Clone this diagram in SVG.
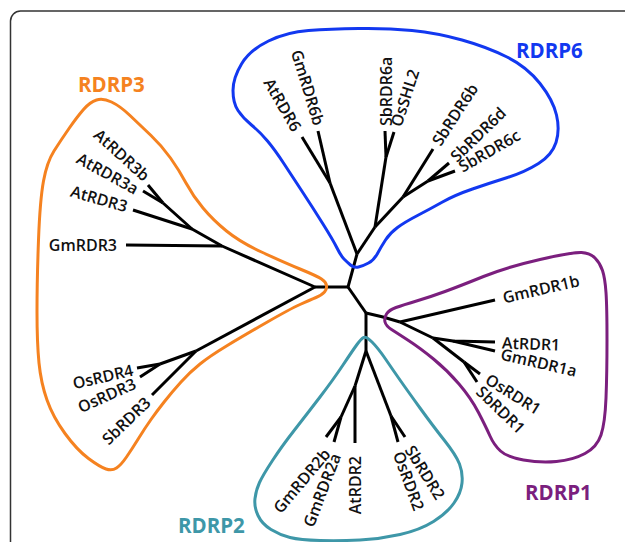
<svg xmlns="http://www.w3.org/2000/svg" width="625" height="542" viewBox="0 0 625 542">
<style>
.tree path{fill:none;stroke:#000;stroke-width:3;stroke-linecap:butt;stroke-linejoin:round}
.hull{fill:none;stroke-width:3;stroke-linejoin:round}
.lf{font-family:"Open Sans","DejaVu Sans",sans-serif;font-size:16px;font-weight:600;fill:#111}
.ttl{font-family:"Open Sans","DejaVu Sans",sans-serif;font-size:20.5px;font-weight:700}
</style>
<rect x="10.5" y="11" width="700" height="600" rx="10" fill="#fff" stroke="#333" stroke-width="1.5"/>
<g id="connectors" class="tree">
<path d="M315,287 L348,287"/>
<path d="M348,287 L357,254"/>
<path d="M348,287 L366,313"/>
<path d="M357,254 L330,183"/>
<path d="M330,183 L302,137"/>
<path d="M330,183 L318,131"/>
<path d="M357,254 L375,227"/>
<path d="M375,227 L386,157"/>
<path d="M386,157 L385,131"/>
<path d="M386,157 L394,132"/>
<path d="M375,227 L403,197"/>
<path d="M403,197 L433,149"/>
<path d="M403,197 L428,181"/>
<path d="M428,181 L449,163"/>
<path d="M428,181 L455,171"/>
<path d="M366,313 L383,317 L400,322"/>
<path d="M400,322 L495,300"/>
<path d="M400,322 L433,338"/>
<path d="M433,338 L453,341 L495,342"/>
<path d="M453,341 L495,351"/>
<path d="M433,338 L464,362"/>
<path d="M464,362 L480,374"/>
<path d="M464,362 L477,382"/>
<path d="M366,313 L366,351"/>
<path d="M366,351 L355,386"/>
<path d="M355,386 L355,443"/>
<path d="M355,386 L341,417"/>
<path d="M341,417 L326,437"/>
<path d="M341,417 L334,442"/>
<path d="M366,351 L391,416"/>
<path d="M391,416 L398,442"/>
<path d="M391,416 L405,437"/>
<path d="M315,287 L222,246 L192,229 L163,203"/>
<path d="M222,246 L126,245"/>
<path d="M192,229 L133,210"/>
<path d="M163,203 L148,185"/>
<path d="M163,203 L143,191"/>
<path d="M315,287 L196,351"/>
<path d="M196,351 L152,395"/>
<path d="M196,351 L160,364"/>
<path d="M160,364 L137,368"/>
<path d="M160,364 L140,377"/>
</g>
<g id="RDRP3">
<path class="hull" stroke="#f58220" d="M96.5,100 Q103,98 111.5,102 Q120,106 130,115.5 Q140,125 151,135.5 Q162,146 170.5,158 Q179,170 186,183 Q193,196 203,208 Q213,220 226.5,231 Q240,242 261.5,252 Q283,262 300,269 Q317,276 321.5,279 Q326,282 326.5,285.5 Q327,289 324.5,292 Q322,295 316,297.5 Q310,300 300,304.5 Q290,309 266.5,322.5 Q243,336 226.5,346 Q210,356 200,364 Q190,372 181,382 Q172,392 164.5,401.5 Q157,411 151,419.5 Q145,428 138.5,438.5 Q132,449 126.5,457 Q121,465 116.5,468 Q112,471 106,469 Q100,467 88.5,458.5 Q77,450 65,433.5 Q53,417 47,400 Q41,383 39,363 Q37,343 37,311.5 Q37,280 38.5,240 Q40,200 43.5,181 Q47,162 54,151 Q61,140 69,128.5 Q77,117 83.5,109.5 Q90,102 96.5,100 Z"/>
<text class="ttl" fill="#f58220" x="78" y="92">RDRP3</text>
</g>
<g id="RDRP6">
<path class="hull" stroke="#1238f0" d="M233,90.5 Q233,78 241.5,64 Q250,50 268.5,41 Q287,32 308.5,30.5 Q330,29 358.5,28.5 Q387,28 412,30.5 Q437,33 462,40 Q487,47 507,57 Q527,67 540,83.5 Q553,100 556.5,115 Q560,130 556,142.5 Q552,155 538.5,163.5 Q525,172 507.5,177.5 Q490,183 472.5,189 Q455,195 442.5,202 Q430,209 417.5,215.5 Q405,222 397.5,227.5 Q390,233 385.5,240 Q381,247 377.5,253.5 Q374,260 368.5,263 Q363,266 358.5,267 Q354,268 350.5,265 Q347,262 344,259 Q341,256 337,248 Q333,240 323,224 Q313,208 302.5,192 Q292,176 283.5,163 Q275,150 267.5,141 Q260,132 251.5,125 Q243,118 238,110.5 Q233,103 233,90.5 Z"/>
<text class="ttl" fill="#1238f0" x="516" y="58">RDRP6</text>
</g>
<g id="RDRP1">
<path class="hull" stroke="#7b1f7e" d="M385,322 Q384,318 386.5,314 Q389,310 396,307.5 Q403,305 416.5,301 Q430,297 445,291.5 Q460,286 483.5,276.5 Q507,267 540,259.5 Q573,252 581.5,252.5 Q590,253 595,258 Q600,263 602.5,270.5 Q605,278 606,292.5 Q607,307 607,340 Q607,373 606,398 Q605,423 601,435 Q597,447 585,453.5 Q573,460 556.5,461.5 Q540,463 523.5,460 Q507,457 500.5,451 Q494,445 490,436 Q486,427 478.5,412.5 Q471,398 459,384 Q447,370 433.5,359 Q420,348 408.5,340.5 Q397,333 391.5,329.5 Q386,326 385,322 Z"/>
<text class="ttl" fill="#7b1f7e" x="525" y="500">RDRP1</text>
</g>
<g id="RDRP2">
<path class="hull" stroke="#3e97a8" d="M363.5,337.5 Q366,336 372,342 Q378,348 385.5,359 Q393,370 400,380 Q407,390 420,408 Q433,426 444.5,440.5 Q456,455 459.5,464 Q463,473 462,483 Q461,493 454,503 Q447,513 433.5,521.5 Q420,530 400,534.5 Q380,539 360,540 Q340,541 320,540.5 Q300,540 290,537.5 Q280,535 271,529.5 Q262,524 258,515.5 Q254,507 255,498.5 Q256,490 259.5,482.5 Q263,475 272.5,460.5 Q282,446 294.5,430 Q307,414 320,397 Q333,380 343,365 Q353,350 357,344.5 Q361,339 363.5,337.5 Z"/>
<text class="ttl" fill="#3e97a8" x="178" y="533">RDRP2</text>
</g>
<g id="GmRDR3"><text class="lf" text-anchor="end" dy="0.35em" transform="translate(117,245)">GmRDR3</text></g>
<g id="AtRDR3"><text class="lf" text-anchor="end" dy="0.35em" transform="translate(127,207) rotate(16)">AtRDR3</text></g>
<g id="AtRDR3a"><text class="lf" text-anchor="end" dy="0.35em" transform="translate(137,190) rotate(29)">AtRDR3a</text></g>
<g id="AtRDR3b"><text class="lf" text-anchor="end" dy="0.35em" transform="translate(147,178) rotate(42)">AtRDR3b</text></g>
<g id="OsRDR4"><text class="lf" text-anchor="end" dy="0.35em" transform="translate(133,370) rotate(-13)">OsRDR4</text></g>
<g id="OsRDR3"><text class="lf" text-anchor="end" dy="0.35em" transform="translate(135,383) rotate(-24)">OsRDR3</text></g>
<g id="SbRDR3"><text class="lf" text-anchor="end" dy="0.35em" transform="translate(148,400) rotate(-44)">SbRDR3</text></g>
<g id="AtRDR6"><text class="lf" text-anchor="end" dy="0.35em" transform="translate(297,130) rotate(60)">AtRDR6</text></g>
<g id="GmRDR6b"><text class="lf" text-anchor="end" dy="0.35em" transform="translate(319,125) rotate(73)">GmRDR6b</text></g>
<g id="SbRDR6a"><text class="lf" text-anchor="start" dy="0.35em" transform="translate(386,126) rotate(-90)">SbRDR6a</text></g>
<g id="OsSHL2"><text class="lf" text-anchor="start" dy="0.35em" transform="translate(396,126) rotate(-72)">OsSHL2</text></g>
<g id="SbRDR6b"><text class="lf" text-anchor="start" dy="0.35em" transform="translate(436,144) rotate(-57)">SbRDR6b</text></g>
<g id="SbRDR6d"><text class="lf" text-anchor="start" dy="0.35em" transform="translate(453,159) rotate(-44)">SbRDR6d</text></g>
<g id="SbRDR6c"><text class="lf" text-anchor="start" dy="0.35em" transform="translate(460,168) rotate(-30)">SbRDR6c</text></g>
<g id="GmRDR1b"><text class="lf" text-anchor="start" dy="0.35em" transform="translate(503,298) rotate(-13)">GmRDR1b</text></g>
<g id="AtRDR1"><text class="lf" text-anchor="start" dy="0.35em" transform="translate(502,343) rotate(2)">AtRDR1</text></g>
<g id="GmRDR1a"><text class="lf" text-anchor="start" dy="0.35em" transform="translate(501,354) rotate(13)">GmRDR1a</text></g>
<g id="OsRDR1"><text class="lf" text-anchor="start" dy="0.35em" transform="translate(487,378) rotate(32)">OsRDR1</text></g>
<g id="SbRDR1"><text class="lf" text-anchor="start" dy="0.35em" transform="translate(479,389) rotate(44)">SbRDR1</text></g>
<g id="GmRDR2b"><text class="lf" text-anchor="end" dy="0.35em" transform="translate(327,451) rotate(-50)">GmRDR2b</text></g>
<g id="GmRDR2a"><text class="lf" text-anchor="end" dy="0.35em" transform="translate(336,454) rotate(-69)">GmRDR2a</text></g>
<g id="AtRDR2"><text class="lf" text-anchor="end" dy="0.35em" transform="translate(355,456) rotate(-90)">AtRDR2</text></g>
<g id="OsRDR2"><text class="lf" text-anchor="start" dy="0.35em" transform="translate(398,452) rotate(70)">OsRDR2</text></g>
<g id="SbRDR2"><text class="lf" text-anchor="start" dy="0.35em" transform="translate(409,447) rotate(58)">SbRDR2</text></g>
</svg>
